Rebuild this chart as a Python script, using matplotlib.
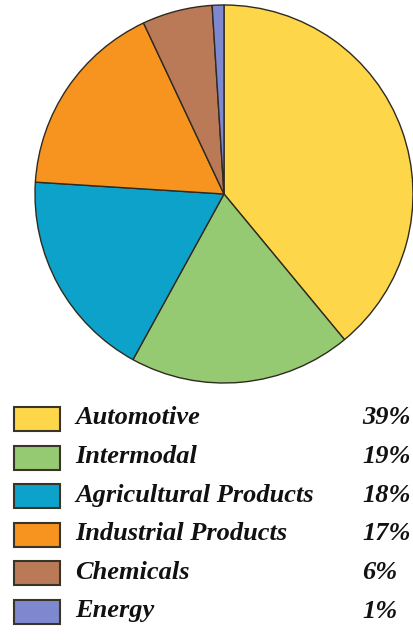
import matplotlib
matplotlib.use("Agg")
import matplotlib.pyplot as plt
from matplotlib.patches import Rectangle

# carload mix by segment
segments = ["Automotive", "Intermodal", "Agricultural Products",
            "Industrial Products", "Chemicals", "Energy"]
shares = [39, 19, 18, 17, 6, 1]
colors = ["#FDD649", "#95CA72", "#0DA2C9", "#F7941F", "#BA7A58", "#7D88CE"]

W, H = 413, 642
fig = plt.figure(figsize=(W / 100, H / 100), dpi=100)
ax = fig.add_axes([0, 0, 1, 1])
ax.set_xlim(0, W)
ax.set_ylim(0, H)
ax.set_aspect("equal")
ax.axis("off")

# pie, clockwise from 12 o'clock
ax.pie(shares, colors=colors, center=(224, H - 194), radius=189,
       startangle=90, counterclock=False,
       wedgeprops=dict(edgecolor="#2f2a20", linewidth=1.0))
ax.set_xlim(0, W)
ax.set_ylim(0, H)

# legend table
font = dict(family="Liberation Serif", style="italic", weight="bold",
            size=19, color="#111111")
row0, step = 419, 38.6
for i, (name, pct, c) in enumerate(zip(segments, shares, colors)):
    y = H - (row0 + i * step)
    ax.add_patch(Rectangle((14, y - 12), 46, 24, facecolor=c,
                           edgecolor="#3a3428", linewidth=1.5))
    ax.text(75, y + 1, name, va="center", ha="left", **font)
    ax.text(362, y + 1, f"{pct}%", va="center", ha="left", **font)

fig.savefig("out.png", dpi=100)
